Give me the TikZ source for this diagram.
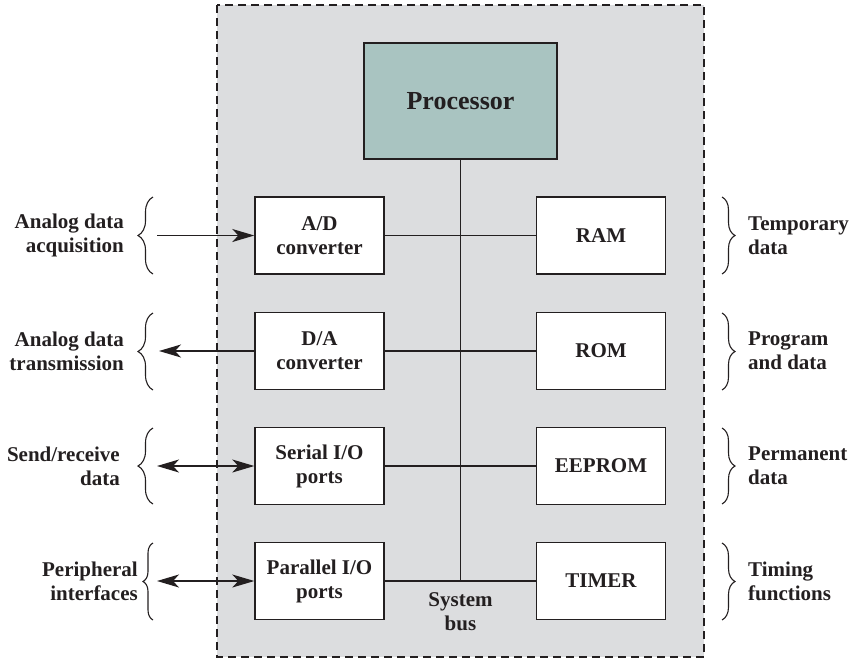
\documentclass[tikz,border=0pt]{standalone}
\usepackage{fontspec}
\setmainfont{Liberation Serif}
\usetikzlibrary{arrows.meta,decorations.pathreplacing}
\definecolor{bggray}{RGB}{220,221,223}
\definecolor{procfill}{RGB}{169,196,193}
\definecolor{ink}{RGB}{35,31,32}
\tikzset{mytip/.tip={Stealth[length=22pt, width=13pt, inset=6pt]}}
\begin{document}
\begin{tikzpicture}[x=1pt,y=-1pt,
  box/.style={draw=ink, line width=1.4pt, fill=white, minimum width=129pt,
    minimum height=77pt, align=center, inner sep=0pt,
    font=\fontsize{21}{24}\selectfont\bfseries, text=ink},
  proc/.style={box, fill=procfill, minimum width=193pt, minimum height=116pt,
    font=\fontsize{26}{30}\selectfont\bfseries},
  llab/.style={anchor=east, align=right, inner sep=0pt, text=ink,
    font=\fontsize{21}{24}\selectfont\bfseries},
  rlab/.style={anchor=west, align=left, inner sep=0pt, text=ink,
    font=\fontsize{21}{24}\selectfont\bfseries},
  conn/.style={draw=ink, line width=1.3pt},
  brc/.style={draw=ink, line width=1.1pt, decorate,
    decoration={brace, amplitude=15pt}},
]
\useasboundingbox (0,0) rectangle (856,659);
% enclosure
\draw[fill=bggray, draw=ink, line width=1.8pt, dash pattern=on 8pt off 5pt]
  (217,5) rectangle (704,657);

% nodes
\node[proc] (proc) at (460.5,101) {Processor};
\node[box] (ad)  at (319.5,235.5) {A/D\\converter};
\node[box] (da)  at (319.5,351)   {D/A\\converter};
\node[box] (ser) at (319.5,466)   {Serial I/O\\ports};
\node[box] (par) at (319.5,581)   {Parallel I/O\\ports};
\node[box] (ram) at (601,235.5)   {RAM};
\node[box] (rom) at (601,351)     {ROM};
\node[box] (eep) at (601,466)     {EEPROM};
\node[box] (tim) at (601,581)     {TIMER};

% bus
\coordinate (busbot) at (460.5,581);
\draw[conn] (proc.south) -- (busbot);
\draw[conn] (ad.east) -- (ram.west);
\draw[conn] (da.east) -- (rom.west);
\draw[conn] (ser.east) -- (eep.west);
\draw[conn] (par.east) -- (tim.west);
\node[inner sep=0pt, align=center, text=ink,
  font=\fontsize{21}{24}\selectfont\bfseries] (buslab) at (460.5,612) {System\\bus};

% external arrows
\coordinate (e1) at (157,235.5);
\coordinate (e2) at (159,351);
\coordinate (e3) at (157,466);
\coordinate (e4) at (157,581);
\draw[conn, -{mytip}] (e1) -- (ad.west);
\draw[conn, -{mytip}] (da.west) -- (e2);
\draw[conn, {mytip}-{mytip}] (e3) -- (ser.west);
\draw[conn, {mytip}-{mytip}] (e4) -- (par.west);

% left braces
\draw[brc] (153,274) -- (153,197);
\draw[brc] (153,390) -- (153,313);
\draw[brc] (153,504) -- (153,428);
\draw[brc, decoration={brace, amplitude=10pt}] (153,620) -- (153,543);

% right braces
\draw[brc, decoration={brace, amplitude=13pt}] (722,197) -- (722,274);
\draw[brc, decoration={brace, amplitude=13pt}] (722,313) -- (722,390);
\draw[brc, decoration={brace, amplitude=13pt}] (722,428) -- (722,504);
\draw[brc, decoration={brace, amplitude=13pt}] (722,543) -- (722,620);

% left labels
\node[llab] (l1) at (124,235.5) {Analog data\\acquisition};
\node[llab] (l2) at (124,351)   {Analog data\\transmission};
\node[llab] (l3) at (120,466)   {Send/receive\\data};
\node[llab] (l4) at (138,581)   {Peripheral\\interfaces};

% right labels
\node[rlab] (r1) at (748,235.5) {Temporary\\data};
\node[rlab] (r2) at (748,351)   {Program\\and data};
\node[rlab] (r3) at (748,466)   {Permanent\\data};
\node[rlab] (r4) at (748,581)   {Timing\\functions};
\end{tikzpicture}
\end{document}
